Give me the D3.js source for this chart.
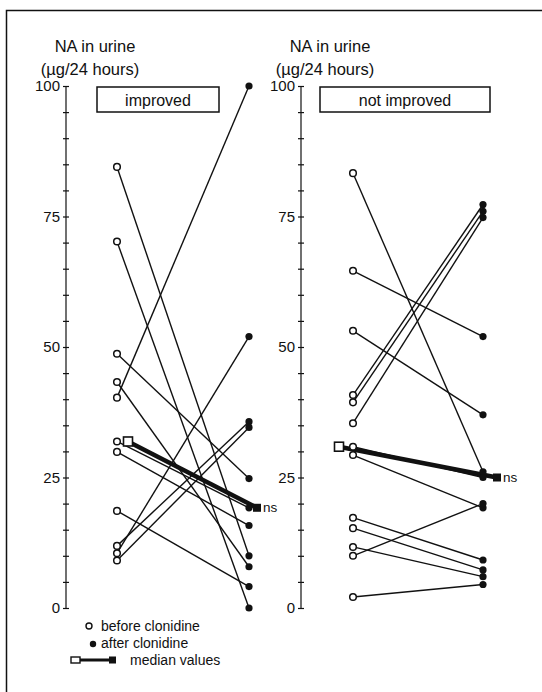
<!DOCTYPE html>
<html lang="en">
<head>
  <meta charset="UTF-8">
  <title>NA in urine before and after clonidine</title>
  <style>
      body { margin: 0; background: #fff; }
      svg text { font-family: "Liberation Sans", Arial, sans-serif; fill: #111; }
      .axis path, .axis line { stroke: #111; stroke-width: 1.2px; }
      .axis text { font-size: 15px; }
      .pair { stroke: #111; stroke-width: 1.4px; fill: none; }
  </style>
</head>
<body>
<div id="chart"></div>
<script src="https://d3js.org/d3.v7.min.js"></script>
<script>
  // values (µg / 24 hours)
  const improvedBefore    = [84.5, 70.2, 48.7, 43.3, 40.3, 31.9, 29.9, 18.6, 11.9, 10.5, 9.1];
  const improvedAfter     = [10.0, 0.0, 24.8, 7.9, 100, 19.2, 15.8, 4.1, 35.7, 52.0, 34.6];
  const notImprovedBefore = [83.3, 64.6, 53.1, 40.8, 39.4, 35.4, 30.9, 29.3, 17.3, 15.3, 11.7, 10.0, 2.1];
  const notImprovedAfter  = [26.1, 52.0, 37.0, 77.3, 76.0, 74.8, 25.0, 19.2, 9.2, 7.3, 6.0, 20.0, 4.5];

  const groupLabels = ["improved", "not improved"];
  const tickValues = d3.range(0, 101, 5);
  const labelledTicks = [0, 25, 50, 75, 100];
  const significance = ["ns", "ns"];

  const width = 542, height = 692;

  const svg = d3.select("#chart").append("svg")
    .attr("width", width)
    .attr("height", height);

  // frame (only top and left edges are visible)
  svg.append("path")
    .attr("d", "M6.5,692V10.5H542")
    .attr("fill", "none")
    .attr("stroke", "#111")
    .attr("stroke-width", 1.5);

  const y = d3.scaleLinear().domain([0, 100]).range([608, 86]);

  const panels = [
    {axisX: 66, before: improvedBefore, after: improvedAfter, label: groupLabels[0],
     xb: 117, xa: 249, box: [97, 219], mb: 128, ma: 257, ns: significance[0]},
    {axisX: 301, before: notImprovedBefore, after: notImprovedAfter, label: groupLabels[1],
     xb: 353, xa: 483, box: [320, 490], mb: 339, ma: 497, ns: significance[1]}
  ];

  panels.forEach(p => {
    const g = svg.append("g");

    // y axis label
    g.append("text")
      .attr("x", p.axisX + 29).attr("y", 52)
      .attr("text-anchor", "middle")
      .style("font-size", "16.5px")
      .text("NA in urine");
    g.append("text")
      .attr("x", p.axisX + 24).attr("y", 75)
      .attr("text-anchor", "middle")
      .style("font-size", "16.5px")
      .text("(\u00b5g/24 hours)");

    // axis with crossing ticks every 5
    const axis = g.append("g")
      .attr("class", "axis")
      .attr("transform", `translate(${p.axisX},0)`)
      .call(d3.axisLeft(y)
        .tickValues(tickValues)
        .tickSize(3)
        .tickSizeOuter(0)
        .tickPadding(3)
        .tickFormat(d => labelledTicks.includes(d) ? d : ""));
    axis.select(".domain").attr("d", `M0,${y(100)}V${y(0)}`);
    axis.selectAll(".tick line").attr("x1", 3).attr("x2", -3);
    axis.selectAll(".tick text").attr("fill", "#111").style("font-family", "Liberation Sans, Arial, sans-serif");

    // group label box
    g.append("rect")
      .attr("x", p.box[0]).attr("y", 87)
      .attr("width", p.box[1] - p.box[0]).attr("height", 25)
      .attr("fill", "#fff").attr("stroke", "#111").attr("stroke-width", 1.5);
    g.append("text")
      .attr("x", (p.box[0] + p.box[1]) / 2).attr("y", 105.5)
      .attr("text-anchor", "middle")
      .style("font-size", "16px")
      .text(p.label);

    // paired lines
    g.selectAll(".pair")
      .data(p.before)
      .enter().append("line")
      .attr("class", "pair")
      .attr("x1", p.xb).attr("y1", d => y(d))
      .attr("x2", p.xa).attr("y2", (d, i) => y(p.after[i]));

    // median line
    const medB = d3.median(p.before), medA = d3.median(p.after);
    g.append("line")
      .attr("x1", p.mb).attr("y1", y(medB))
      .attr("x2", p.ma).attr("y2", y(medA))
      .attr("stroke", "#111").attr("stroke-width", 4.5);

    g.selectAll(".before")
      .data(p.before)
      .enter().append("circle")
      .attr("class", "before")
      .attr("cx", p.xb).attr("cy", d => y(d))
      .attr("r", 3.3)
      .attr("fill", "#fff").attr("stroke", "#111").attr("stroke-width", 1.5);

    g.selectAll(".after")
      .data(p.after)
      .enter().append("circle")
      .attr("class", "after")
      .attr("cx", p.xa).attr("cy", d => y(d))
      .attr("r", 3.6)
      .attr("fill", "#111");

    g.append("rect")
      .attr("x", p.mb - 4.5).attr("y", y(medB) - 4.5)
      .attr("width", 9).attr("height", 9)
      .attr("fill", "#fff").attr("stroke", "#111").attr("stroke-width", 1.6);
    g.append("rect")
      .attr("x", p.ma - 4).attr("y", y(medA) - 4)
      .attr("width", 8).attr("height", 8)
      .attr("fill", "#111");

    g.append("text")
      .attr("x", p.ma + 6).attr("y", y(medA) + 4.5)
      .style("font-size", "13.5px")
      .text(p.ns);
  });

  // legend
  const legend = svg.append("g");
  legend.append("circle")
    .attr("cx", 89).attr("cy", 626).attr("r", 3)
    .attr("fill", "#fff").attr("stroke", "#111").attr("stroke-width", 1.4);
  legend.append("text")
    .attr("x", 101).attr("y", 631)
    .style("font-size", "14px")
    .text("before clonidine");
  legend.append("circle")
    .attr("cx", 93).attr("cy", 644).attr("r", 3.2)
    .attr("fill", "#111");
  legend.append("text")
    .attr("x", 101).attr("y", 648)
    .style("font-size", "14px")
    .text("after clonidine");
  legend.append("line")
    .attr("x1", 78).attr("y1", 660).attr("x2", 112).attr("y2", 660)
    .attr("stroke", "#111").attr("stroke-width", 3);
  legend.append("rect")
    .attr("x", 71).attr("y", 657).attr("width", 9).attr("height", 6)
    .attr("fill", "#fff").attr("stroke", "#111").attr("stroke-width", 1.4);
  legend.append("rect")
    .attr("x", 109).attr("y", 656.5).attr("width", 7).attr("height", 7)
    .attr("fill", "#111");
  legend.append("text")
    .attr("x", 130).attr("y", 665)
    .style("font-size", "14px")
    .text("median values");
</script>
</body>
</html>
